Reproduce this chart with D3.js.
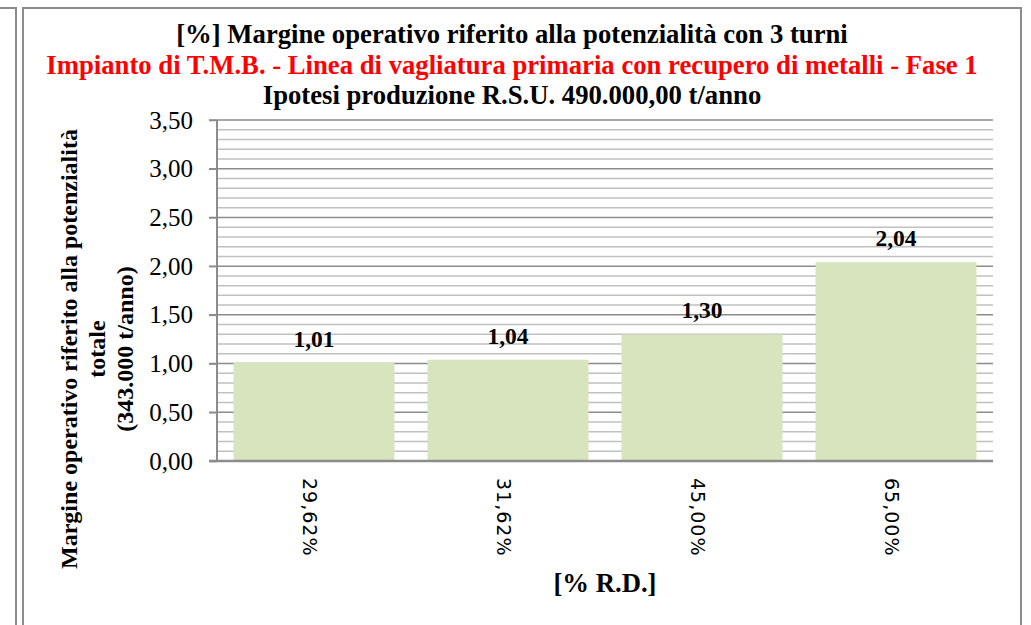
<!DOCTYPE html>
<html lang="it">
<head>
  <meta charset="UTF-8">
  <title>Margine operativo</title>
  <style>
    body { margin: 0; background: #fff; }
    svg { display: block; }
    .grid-minor line { stroke: #c0c0c0; stroke-width: 1.5px; }
    .grid-major line { stroke: #8c8c8c; stroke-width: 1.5px; }
    .frame { fill: none; stroke: #8c8c8c; stroke-width: 2px; }
    .serif { font-family: "Liberation Serif", "Times New Roman", serif; }
    .cat { font-family: "DejaVu Sans", Verdana, sans-serif; }
  </style>
</head>
<body>
  <script src="https://d3js.org/d3.v7.min.js"></script>
  <script>

    // dati
    var categories = ["29,62%", "31,62%", "45,00%", "65,00%"];
    var values = [1.01, 1.04, 1.30, 2.04];
    var yTicks = [0, 0.5, 1, 1.5, 2, 2.5, 3, 3.5];
    var titleLines = [
      "[%] Margine operativo riferito alla potenzialità con 3 turni",
      "Impianto di T.M.B. - Linea di vagliatura primaria con recupero di metalli - Fase 1",
      "Ipotesi produzione R.S.U. 490.000,00 t/anno"
    ];
    var yTitleLines = [
      "Margine operativo riferito alla potenzialità",
      "totale",
      "(343.000 t/anno)"
    ];
    var xTitle = "[% R.D.]";

    var width = 1031, height = 625;
    var margin = {top: 120, right: 38, bottom: 164, left: 217};
    var w = width - margin.left - margin.right;
    var h = height - margin.top - margin.bottom;

    var fmt = function(v) { return d3.format(".2f")(v).replace(".", ","); };

    var svg = d3.select("body").append("svg")
        .attr("width", width)
        .attr("height", height);

    // cornici
    svg.append("path").attr("class", "frame")
        .attr("d", "M0,8H16V" + (height + 5));
    svg.append("path").attr("class", "frame")
        .attr("d", "M23," + (height + 5) + "V8H1021V" + (height + 5));

    var x = d3.scaleBand().domain(categories).range([0, w]).paddingInner(0.17).paddingOuter(0.085);
    var y = d3.scaleLinear().domain([0, 3.5]).range([h, 0]);

    var g = svg.append("g").attr("transform", "translate(" + margin.left + "," + margin.top + ")");

    // griglia secondaria ogni 0,1
    var minor = d3.range(1, 35).map(function(i){ return i / 10; })
        .filter(function(v){ return Math.round(v * 10) % 5 !== 0; });
    g.append("g").attr("class", "grid-minor")
      .selectAll("line").data(minor).enter().append("line")
        .attr("x1", 0).attr("x2", w)
        .attr("y1", function(d){ return y(d); })
        .attr("y2", function(d){ return y(d); });

    g.append("g").attr("class", "grid-major")
      .selectAll("line").data(yTicks.slice(1)).enter().append("line")
        .attr("x1", -8).attr("x2", w)
        .attr("y1", function(d){ return y(d); })
        .attr("y2", function(d){ return y(d); });

    // barre
    g.selectAll("rect.bar").data(values).enter().append("rect")
        .attr("class", "bar")
        .attr("x", function(d, i){ return x(categories[i]); })
        .attr("y", function(d){ return y(d); })
        .attr("width", x.bandwidth())
        .attr("height", function(d){ return h - y(d); })
        .attr("fill", "#d7e4bd");

    g.selectAll("text.val").data(values).enter().append("text")
        .attr("class", "val serif")
        .attr("x", function(d, i){ return x(categories[i]) + x.bandwidth() / 2; })
        .attr("y", function(d){ return y(d) - 16; })
        .attr("text-anchor", "middle")
        .attr("font-size", 23.5)
        .attr("font-weight", "bold")
        .text(fmt);

    // asse y
    var yAxis = g.append("g")
        .call(d3.axisLeft(y).tickValues(yTicks).tickSize(8).tickPadding(16).tickFormat(fmt));
    yAxis.select(".domain").remove();
    yAxis.selectAll(".tick line").attr("stroke", "#8c8c8c").attr("stroke-width", 1.5);
    yAxis.selectAll(".tick text")
        .attr("class", "serif")
        .attr("font-size", 25).attr("fill", "#000");

    g.append("line").attr("x1", 0).attr("x2", 0).attr("y1", 0).attr("y2", h)
        .attr("stroke", "#8c8c8c").attr("stroke-width", 2);
    g.append("line").attr("x1", -8).attr("x2", w).attr("y1", h).attr("y2", h)
        .attr("stroke", "#8c8c8c").attr("stroke-width", 2.5);

    // etichette categorie (ruotate)
    g.selectAll("text.cat").data(categories).enter().append("text")
        .attr("class", "cat")
        .attr("transform", function(d){
          return "translate(" + (x(d) + x.bandwidth() / 2 - 11) + "," + (h + 17) + ") rotate(90)";
        })
        .attr("font-size", 19)
        .attr("letter-spacing", 1)
        .text(function(d){ return d; });

    // titolo
    svg.append("g").selectAll("text").data(titleLines).enter().append("text")
        .attr("class", "serif")
        .attr("x", 512)
        .attr("y", function(d, i){ return 43 + i * 30.5; })
        .attr("text-anchor", "middle")
        .attr("font-size", 26.7)
        .attr("font-weight", "bold")
        .attr("fill", function(d, i){ return i === 1 ? "#ff0000" : "#000"; })
        .text(function(d){ return d; });

    // titoli assi
    svg.append("text")
        .attr("class", "serif")
        .attr("x", margin.left + w / 2)
        .attr("y", 592)
        .attr("text-anchor", "middle")
        .attr("font-size", 26.7)
        .attr("font-weight", "bold")
        .text(xTitle);

    svg.append("g")
        .attr("transform", "translate(77,349) rotate(-90)")
      .selectAll("text").data(yTitleLines).enter().append("text")
        .attr("class", "serif")
        .attr("x", 0)
        .attr("y", function(d, i){ return i * 28; })
        .attr("text-anchor", "middle")
        .attr("font-size", 24)
        .attr("font-weight", "bold")
        .text(function(d){ return d; });

  </script>
</body>
</html>
